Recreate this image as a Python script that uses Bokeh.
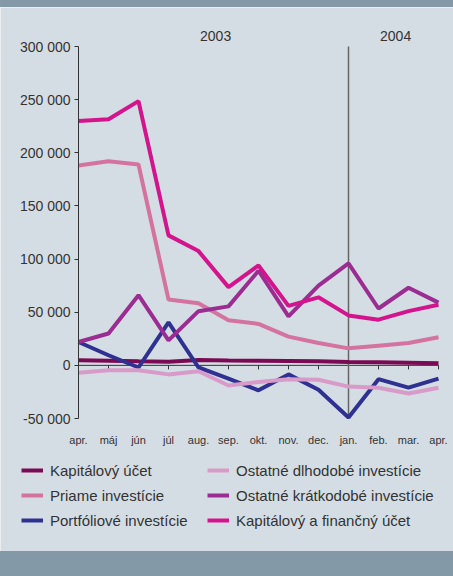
from bokeh.plotting import figure
from bokeh.models import (FixedTicker, LinearAxis, Label, Legend, LegendItem, Div)
from bokeh.embed import file_html
from bokeh.resources import INLINE

months = ["apr.", "máj", "jún", "júl", "aug.", "sep.", "okt.", "nov.", "dec.",
          "jan.", "feb.", "mar.", "apr."]
x = list(range(len(months)))

kapitalovy_ucet = [4700, 4300, 3800, 3500, 5000, 4500, 4400, 4100, 3800, 3200, 3000, 2500, 1900]
priame = [188000, 192000, 189000, 62000, 58500, 42500, 39000, 27000, 21000, 16000, 18500, 21000, 26500]
portfoliove = [22000, 9500, -2000, 40500, -2000, -12500, -23500, -8500, -23000, -49000, -13000, -21000, -12500]
ostatne_dlhodobe = [-7000, -4700, -4700, -8500, -5600, -19000, -15600, -13000, -13500, -20000, -21000, -26500, -21000]
ostatne_kratkodobe = [22000, 30000, 66000, 23500, 51000, 55500, 89000, 46000, 75000, 96000, 53500, 73000, 59000]
kap_a_financny = [230000, 231600, 248600, 122300, 107500, 73600, 94000, 56000, 64000, 47000, 43000, 51000, 57000]

series = [
    ("Kapitálový účet", kapitalovy_ucet, "#7b0a55"),
    ("Priame investície", priame, "#d4739f"),
    ("Portfóliové investície", portfoliove, "#2e3192"),
    ("Ostatné dlhodobé investície", ostatne_dlhodobe, "#d89ac8"),
    ("Ostatné krátkodobé investície", ostatne_kratkodobe, "#9b2d92"),
    ("Kapitálový a finančný účet", kap_a_financny, "#d4148c"),
]

y_ticks = [-50000, 0, 50000, 100000, 150000, 200000, 250000, 300000]
y_tick_labels = ["-50 000", "0", "50 000", "100 000", "150 000", "200 000", "250 000", "300 000"]
years = ["2003", "2004"]
year_x = [4.57, 10.57]
divider_index = 9

BG = "#d5dde4"
BAR = "#8499a8"
TXT = "#333333"
FONT = "Liberation Sans"
W = 453

# one plot whose frame fills the canvas; the axes are pinned inside it
p = figure(width=W, height=544, output_backend="svg", toolbar_location=None,
           x_range=(-2.6, 12.5), y_range=(-175134, 336694),
           min_border=0, x_axis_location=None, y_axis_location=None)
p.background_fill_color = BG
p.border_fill_color = BG
p.outline_line_color = None
p.grid.visible = False

yax = LinearAxis(fixed_location=0, ticker=FixedTicker(ticks=y_ticks),
                 bounds=(y_ticks[0], y_ticks[-1]))
yax.major_label_overrides = {t: s for t, s in zip(y_ticks, y_tick_labels)}
yax.axis_line_color = TXT
yax.major_tick_line_color = TXT
yax.major_tick_in = 0
yax.major_tick_out = 4
yax.minor_tick_line_color = None
yax.major_label_standoff = 4
yax.major_label_text_font = FONT
yax.major_label_text_font_size = "14px"
yax.major_label_text_color = TXT
p.add_layout(yax, "left")

xax = LinearAxis(fixed_location=y_ticks[0], ticker=FixedTicker(ticks=x))
xax.major_label_overrides = {i: m for i, m in zip(x, months)}
xax.axis_line_color = None
xax.major_tick_line_color = None
xax.minor_tick_line_color = None
xax.major_label_standoff = 9
xax.major_label_text_font = FONT
xax.major_label_text_font_size = "11px"
xax.major_label_text_color = TXT
p.add_layout(xax, "below")

# zero line with ticks
p.segment(x0=[x[0]], y0=[0], x1=[x[-1]], y1=[0], line_color=TXT, line_width=1)
p.segment(x0=x, y0=[0] * len(x), x1=x, y1=[-3800] * len(x), line_color=TXT, line_width=1)

# divider between years
p.segment(x0=[divider_index], y0=[y_ticks[0]], x1=[divider_index], y1=[y_ticks[-1]],
          line_color="#666666", line_width=1.5)

items = []
for name, vals, col in series:
    r = p.line(x, vals, line_color=col, line_width=4)
    items.append(LegendItem(label=name, renderers=[r]))

for yt, yx in zip(years, year_x):
    p.add_layout(Label(x=yx, y=310300, text=yt, text_align="center", text_baseline="middle",
                       text_font=FONT, text_font_size="14px", text_color=TXT))

legend_style = dict(background_fill_alpha=0, border_line_color=None,
                    label_text_font=FONT, label_text_font_size="15px", label_text_color=TXT,
                    glyph_width=22, glyph_height=20, label_height=20, label_standoff=7,
                    spacing=5, padding=0, margin=0)
p.add_layout(Legend(items=items[:3], location=(21, 21), **legend_style), "center")
p.add_layout(Legend(items=items[3:], location=(207, 21), **legend_style), "center")

top_bar = Div(width=W, height=7, margin=(0, 0, 0, 0), styles={"background-color": BAR})
bottom_bar = Div(width=W, height=25, margin=(0, 0, 0, 0), styles={"background-color": BAR})

open("out.html", "w").write(file_html([top_bar, p, bottom_bar], INLINE))
